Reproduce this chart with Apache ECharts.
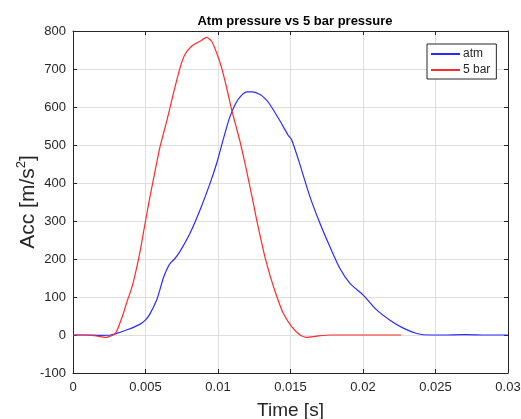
<!DOCTYPE html>
<html>
<head>
<meta charset="utf-8">
<title>Atm pressure vs 5 bar pressure</title>
<script src="https://cdn.jsdelivr.net/npm/echarts@6/dist/echarts.min.js"></script>
<style>
  html, body { margin: 0; padding: 0; background: #ffffff; }
  #chart { width: 521px; height: 419px; }
</style>
</head>
<body>
<div id="chart"></div>
<script>
// Acceleration traces, time in seconds, acceleration in m/s^2
var atmTime = [0, 0.001, 0.0018, 0.0026, 0.00368, 0.0046, 0.005, 0.0053, 0.00577, 0.006,
  0.00623, 0.00646, 0.00669, 0.007, 0.00738, 0.00807, 0.00876, 0.00945, 0.00991, 0.0104,
  0.0108, 0.0112, 0.0116, 0.012, 0.0124, 0.0129, 0.0133, 0.01359, 0.01428, 0.01485,
  0.01508, 0.01554, 0.01634, 0.01703, 0.01772, 0.01841, 0.0191, 0.02002, 0.02094, 0.02186,
  0.02278, 0.0237, 0.02462, 0.0255, 0.027, 0.0285, 0.03];
var atmAcc = [0, 0, -1, 0, 13, 28, 40, 55, 92, 120,
  150, 172, 188, 200, 220, 268, 329, 399, 452, 520,
  572, 608, 630, 640, 640, 633, 620, 606, 563, 525,
  514, 462, 364, 294, 232, 175, 136, 105, 66, 39,
  18, 4, 0, 0, 1, 0, 0];

var barTime = [0, 0.0008, 0.0015, 0.0023, 0.00276, 0.0029, 0.0031, 0.0033, 0.0035, 0.0037,
  0.004, 0.0042, 0.0046, 0.005, 0.0053, 0.006, 0.00646, 0.00692, 0.00738, 0.00772,
  0.00818, 0.00876, 0.00922, 0.00956, 0.00991, 0.01025, 0.0106, 0.01094, 0.01128, 0.01152,
  0.0118, 0.01215, 0.0125, 0.01267, 0.013, 0.01324, 0.0136, 0.01405, 0.0145, 0.01508,
  0.01566, 0.01611, 0.0168, 0.01772, 0.019, 0.021, 0.02262];
var barAcc = [0, 0, -2, -6, 0, 3, 18, 38, 60, 85,
  118, 145, 215, 300, 362, 495, 562, 635, 703, 738,
  760, 773, 783, 773, 742, 703, 650, 593, 544, 509,
  462, 400, 335, 302, 245, 205, 155, 102, 57, 22,
  0, -6, -3, 0, 0, 0, 0];

var xTicks = ['0', '0.005', '0.01', '0.015', '0.02', '0.025', '0.03'];
var yTicks = ['-100', '0', '100', '200', '300', '400', '500', '600', '700', '800'];

function pairs(xs, ys) {
  return xs.map(function (x, i) { return [x, ys[i]]; });
}

var FONT = '"Liberation Sans", Arial, Helvetica, sans-serif';
var INK = '#262626';
var GRID = '#dedede';

var chart = echarts.init(document.getElementById('chart'), null, { renderer: 'canvas' });

// top and right axes only close the box: line and inward ticks, no labels
var boxAxis = {
  axisLine: { show: true, onZero: false, lineStyle: { color: INK, width: 1 } },
  axisTick: { show: true, inside: true, length: 4, lineStyle: { color: INK } },
  axisLabel: { show: false },
  splitLine: { show: false }
};

chart.setOption({
  animation: false,
  backgroundColor: '#ffffff',
  textStyle: { fontFamily: FONT },
  title: {
    text: 'Atm pressure vs 5 bar pressure',
    left: 290, top: 10, textAlign: 'center',
    textStyle: { fontFamily: FONT, fontSize: 13, fontWeight: 'bold', color: '#000000' }
  },
  legend: {
    orient: 'vertical',
    left: 427, top: 44,
    padding: [4, 6, 3, 4],
    itemGap: 4,
    itemWidth: 29,
    itemHeight: 2,
    icon: 'rect',
    backgroundColor: '#ffffff',
    borderColor: INK,
    borderWidth: 1,
    borderRadius: 0,
    textStyle: { fontFamily: FONT, fontSize: 12, color: INK, padding: [0, 0, 0, -2] },
    data: ['atm', '5 bar']
  },
  grid: { left: 73, right: 13, top: 31, bottom: 46, containLabel: false, outerBoundsMode: 'none' },
  xAxis: [{
    type: 'value', min: 0, max: 0.03, interval: 0.005,
    position: 'bottom',
    name: 'Time [s]', nameLocation: 'middle', nameGap: 28, nameMoveOverlap: false,
    nameTextStyle: { fontFamily: FONT, fontSize: 19, color: INK },
    axisLine: { show: true, onZero: false, lineStyle: { color: INK, width: 1 } },
    axisTick: { show: true, inside: true, length: 4, lineStyle: { color: INK } },
    axisLabel: {
      fontFamily: FONT, fontSize: 13, color: INK, margin: 8, showMaxLabel: true,
      formatter: function (v) { return xTicks[Math.round(v / 0.005)]; }
    },
    splitLine: { show: true, lineStyle: { color: GRID, width: 1 } }
  }, Object.assign({
    type: 'value', min: 0, max: 0.03, interval: 0.005, position: 'top'
  }, boxAxis)],
  yAxis: [{
    type: 'value', min: -100, max: 800, interval: 100,
    position: 'left',
    name: 'Acc [m/s{sup|2}]', nameLocation: 'middle', nameGap: 31, nameRotate: 90,
    nameMoveOverlap: false,
    nameTextStyle: {
      fontFamily: FONT, fontSize: 21, color: INK, lineHeight: 27,
      rich: { sup: { fontFamily: FONT, fontSize: 13, color: INK, verticalAlign: 'top', lineHeight: 27 } }
    },
    axisLine: { show: true, onZero: false, lineStyle: { color: INK, width: 1 } },
    axisTick: { show: true, inside: true, length: 4, lineStyle: { color: INK } },
    axisLabel: {
      fontFamily: FONT, fontSize: 13, color: INK, margin: 7,
      formatter: function (v) { return yTicks[Math.round((v + 100) / 100)]; }
    },
    splitLine: { show: true, lineStyle: { color: GRID, width: 1 } }
  }, Object.assign({
    type: 'value', min: -100, max: 800, interval: 100, position: 'right'
  }, boxAxis)],
  series: [{
    name: 'atm', type: 'line',
    data: pairs(atmTime, atmAcc),
    symbol: 'none', smooth: 0.2,
    lineStyle: { color: '#2a2aff', width: 1.2 },
    itemStyle: { color: '#2a2aff' },
    z: 3
  }, {
    name: '5 bar', type: 'line',
    data: pairs(barTime, barAcc),
    symbol: 'none', smooth: 0.2,
    lineStyle: { color: '#ff2a2a', width: 1.2 },
    itemStyle: { color: '#ff2a2a' },
    z: 4
  }]
});
</script>
</body>
</html>
